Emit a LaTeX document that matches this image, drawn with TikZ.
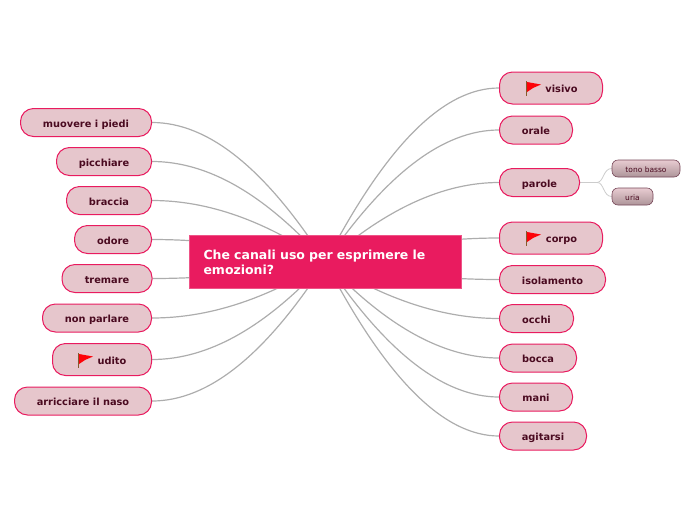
\documentclass[tikz,border=0pt]{standalone}
\usepackage{fontspec}
\setmainfont{DejaVu Sans}
\usetikzlibrary{backgrounds,calc}
\definecolor{rosa}{HTML}{E91B5F}
\definecolor{rosino}{HTML}{E6C6CC}
\definecolor{vino}{HTML}{4A0A20}
\tikzset{
  x=1pt,y=-1pt,
  radice/.style={rectangle,draw=rosa!75!white,fill=rosa,text=white,font=\fontsize{12.5}{15}\selectfont\bfseries,align=left,text width=244pt,inner sep=0pt,inner xsep=14pt,minimum height=53pt,line width=.6pt},
  ramo/.style={rectangle,rounded corners=13pt,draw=rosa,fill=rosino,text=vino,line width=1pt,font=\fontsize{9.8}{12}\selectfont\bfseries,minimum height=28pt,inner sep=0pt,text height=9pt,text depth=0pt},
  foglia/.style={rectangle,rounded corners=6pt,draw=vino!75!white,top color=rosino!90!white,bottom color=rosino!75!black,text=vino,line width=.6pt,font=\fontsize{7.5}{9}\selectfont,minimum height=17pt,inner sep=0pt,text height=7pt,text depth=0pt},
  linea/.style={draw=black!32,line width=1.2pt},
  lineetta/.style={draw=black!20,line width=.8pt},
  bandiera/.pic={
    \draw[brown!70!black,line width=.7pt] (-6.5,-7) -- (-6.5,8);
    \fill[red!90!rosa] (-6,-6) -- (8,-3.5) -- (0,0) -- (-6,4) -- cycle;
  },
}
\begin{document}
\begin{tikzpicture}
  \useasboundingbox (0,0) rectangle (696,520);
  \node[radice] (root) at (325.5,262) {Che canali uso per esprimere le emozioni?};
  % sinistra
  \node[ramo,minimum width=131pt] (muovere) at (86,122.5) {muovere i piedi};
  \node[ramo,minimum width=95pt] (picchiare) at (104,161.5) {picchiare};
  \node[ramo,minimum width=85pt] (braccia) at (109,200.5) {braccia};
  \node[ramo,minimum width=77pt] (odore) at (113,239.5) {odore};
  \node[ramo,minimum width=90pt] (tremare) at (107,278.5) {tremare};
  \node[ramo,minimum width=109pt] (nonparlare) at (97,318) {non parlare};
  \node[ramo,minimum width=99pt,minimum height=32pt] (udito) at (102,359.5) {\hspace*{20pt}udito};
  \node[ramo,minimum width=137pt] (arricciare) at (83,401) {arricciare il naso};
  % destra
  \node[ramo,minimum width=103pt,minimum height=32pt] (visivo) at (551,88) {\hspace*{21pt}visivo};
  \node[ramo,minimum width=73pt] (orale) at (536,130) {orale};
  \node[ramo,minimum width=80pt] (parole) at (539.5,182.5) {parole};
  \node[ramo,minimum width=103pt,minimum height=32pt] (corpo) at (551,238) {\hspace*{21pt}corpo};
  \node[ramo,minimum width=106pt] (isolamento) at (552.5,279.5) {isolamento};
  \node[ramo,minimum width=74pt] (occhi) at (536.5,318.5) {occhi};
  \node[ramo,minimum width=77pt] (bocca) at (538,358) {bocca};
  \node[ramo,minimum width=73pt] (mani) at (536,397) {mani};
  \node[ramo,minimum width=87pt] (agitarsi) at (543,436) {agitarsi};
  \node[foglia,minimum width=68pt] (tono) at (646,168.5) {tono basso};
  \node[foglia,minimum width=41pt] (uria) at (632.5,196.5) {uria};
  \coordinate (snodo) at (597,182.5);
  \pic at (85,360) {bandiera};
  \pic at (533,88) {bandiera};
  \pic at (533,238) {bandiera};
  \begin{scope}[on background layer]
    \foreach \n in {muovere,picchiare,braccia,odore,tremare,nonparlare,udito,arricciare} {
      \coordinate (c) at (236,0 |- \n.east);
      \draw[linea] (\n.east) .. controls ($(\n.east)!.67!(c)$) and ($(root.center)!.67!(c)$) .. (root.center);
    }
    \foreach \n in {visivo,orale,parole,corpo,isolamento,occhi,bocca,mani,agitarsi} {
      \coordinate (c) at (416,0 |- \n.west);
      \draw[linea] (\n.west) .. controls ($(\n.west)!.67!(c)$) and ($(root.center)!.67!(c)$) .. (root.center);
    }
    \draw[lineetta] (parole.east) -- (snodo);
    \draw[lineetta] (snodo) .. controls (604,182) and (603,168.5) .. (tono.west);
    \draw[lineetta] (snodo) .. controls (604,182) and (603,196.5) .. (uria.west);
  \end{scope}
\end{tikzpicture}
\end{document}
